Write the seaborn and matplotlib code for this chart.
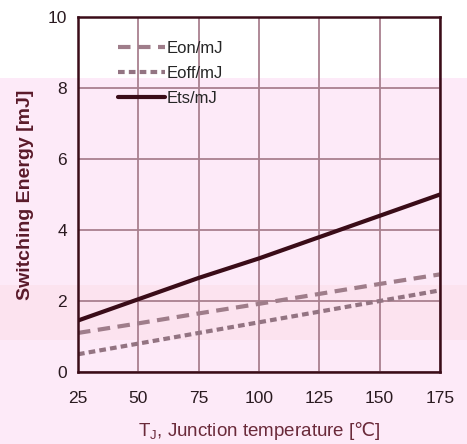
import matplotlib
matplotlib.use("Agg")
import matplotlib.pyplot as plt
import seaborn as sns
import pandas as pd
from matplotlib.patches import Rectangle

temps = [25, 50, 75, 100, 125, 150, 175]
eon = [1.10, 1.37, 1.65, 1.92, 2.20, 2.48, 2.75]
eoff = [0.50, 0.80, 1.10, 1.40, 1.70, 2.00, 2.30]
ets = [1.45, 2.05, 2.65, 3.20, 3.80, 4.40, 5.00]
xticks = [25, 50, 75, 100, 125, 150, 175]
yticks = [0, 2, 4, 6, 8, 10]

sns.set_style("white")
plt.rcParams['font.family'] = ['Liberation Sans', 'DejaVu Sans']

df = pd.DataFrame({'T': temps, 'Eon/mJ': eon, 'Eoff/mJ': eoff, 'Ets/mJ': ets})

fig = plt.figure(figsize=(4.67, 4.44), dpi=100)
fig.patch.set_facecolor('white')
# pink overlay over the lower part of the picture
fig.patches.append(Rectangle((0, 0), 1, 1 - 78 / 444, transform=fig.transFigure,
                             facecolor='#fdeaf8', edgecolor='none', zorder=-2))
fig.patches.append(Rectangle((0, 1 - 340 / 444), 1, 55 / 444, transform=fig.transFigure,
                             facecolor='#fce3ef', edgecolor='none', zorder=-1))

ax = fig.add_axes([78 / 467, 1 - 372 / 444, 362 / 467, 355 / 444])
ax.set_facecolor('none')

sns.lineplot(data=df, x='T', y='Eon/mJ', ax=ax, color='#9f7d8a', lw=3,
             label='Eon/mJ', linestyle=(0, (3, 1.8)))
sns.lineplot(data=df, x='T', y='Eoff/mJ', ax=ax, color='#937482', lw=3,
             label='Eoff/mJ', linestyle=(0, (1.6, 1.0)))
sns.lineplot(data=df, x='T', y='Ets/mJ', ax=ax, color='#3a0c18', lw=3,
             label='Ets/mJ')

ax.set_xlim(25, 175)
ax.set_ylim(0, 10)
ax.set_xticks(xticks)
ax.set_yticks(yticks)
ax.set_xticklabels([str(t) for t in xticks], fontsize=12.5, color='#2a1a20')
ax.set_yticklabels([str(t) for t in yticks], fontsize=12.5, color='#2a1a20')
ax.tick_params(axis='x', pad=14, length=0)
ax.tick_params(axis='y', pad=8, length=0)
ax.grid(True, color='#a9808f', lw=1.3)
for s in ax.spines.values():
    s.set_visible(True)
    s.set_color('#3a0c18')
    s.set_linewidth(1.8)

ax.set_xlabel('T$_\\mathregular{J}$, Junction temperature [$\\mathrm{℃}$]', fontsize=13.5,
              color='#6a2a3a', labelpad=10)
ax.set_ylabel('Switching Energy [mJ]', fontsize=14, fontweight='bold',
              color='#5a1a2a', labelpad=10)

leg = ax.legend(loc='upper left', bbox_to_anchor=(0.07, 0.975), frameon=False,
                fontsize=12, handlelength=2.8, handletextpad=0.1,
                labelspacing=0.6)

fig.savefig('out.png', dpi=100)
